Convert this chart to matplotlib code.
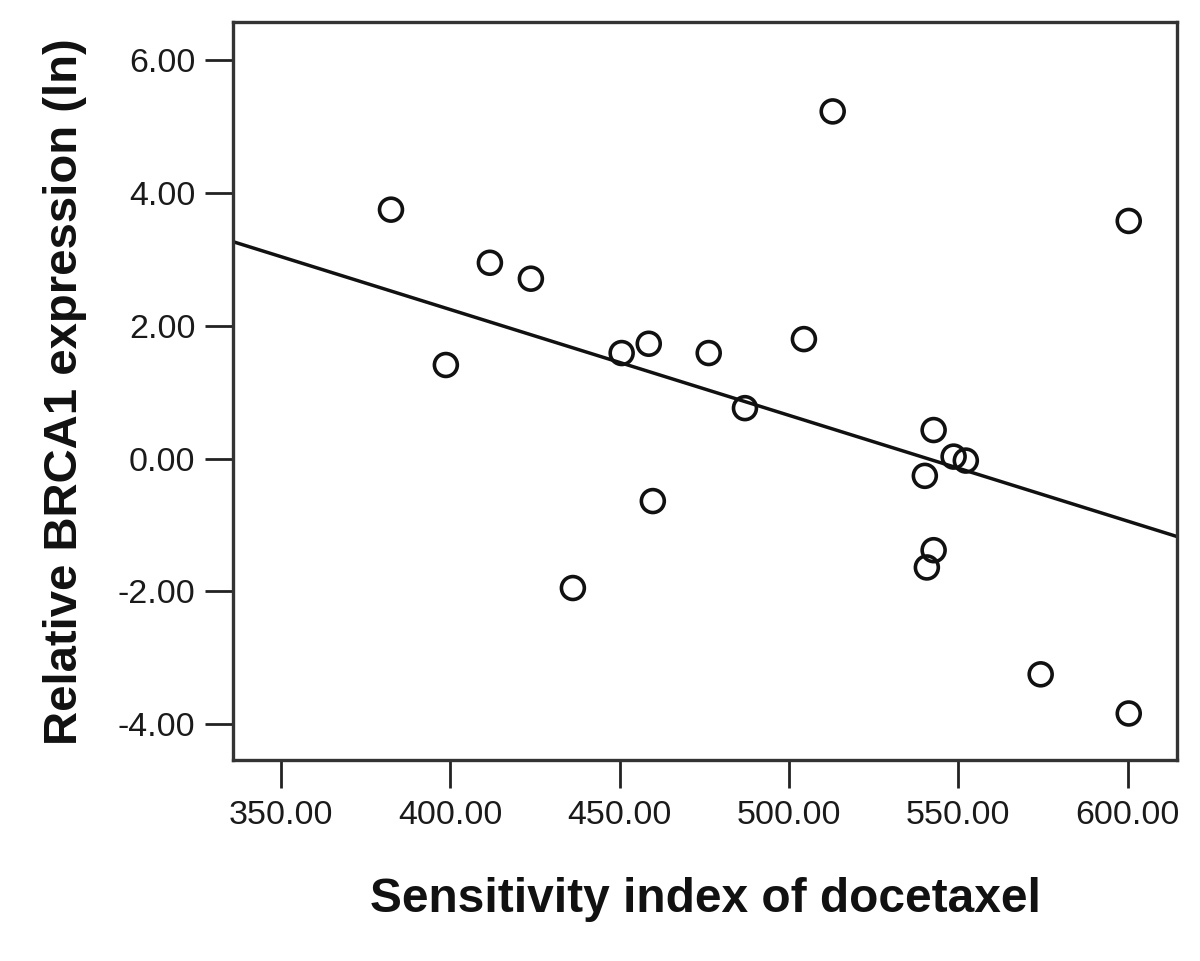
import numpy as np
import matplotlib
matplotlib.use("Agg")
import matplotlib.pyplot as plt

# Data
sensitivity = [382.5, 398.7, 411.7, 423.8, 436.2, 450.6, 458.6, 459.8, 476.3, 487.0,
               504.4, 512.9, 540.1, 542.7, 542.7, 540.7, 548.6, 552.2, 574.3, 600.3, 600.3]
brca1 = [3.75, 1.41, 2.95, 2.71, -1.95, 1.59, 1.73, -0.64, 1.59, 0.76,
         1.80, 5.23, -0.26, 0.43, -1.38, -1.64, 0.03, -0.03, -3.25, 3.58, -3.84]
x_ticks = [350, 400, 450, 500, 550, 600]
y_ticks = [-4, -2, 0, 2, 4, 6]
x_label = "Sensitivity index of docetaxel"
y_label = "Relative BRCA1 expression (ln)"

plt.rcParams['font.family'] = ['Liberation Sans', 'DejaVu Sans']

fig = plt.figure(figsize=(12, 9.61), dpi=100)
ax = fig.add_axes([0.194, 0.2092, 0.7867, 0.7679])

x = np.array(sensitivity)
y = np.array(brca1)
xlim = (335.8, 614.5)
ylim = (-4.54, 6.577)

slope, intercept = np.polyfit(x, y, 1)
xl = np.array(xlim)
ax.plot(xl, slope * xl + intercept, color='#111111', lw=2.5, zorder=2)

ax.scatter(x, y, s=16.5**2, facecolors='none', edgecolors='#111111', linewidths=2.6, zorder=3)

ax.set_xlim(*xlim)
ax.set_ylim(*ylim)
ax.set_xticks(x_ticks)
ax.set_xticklabels([f"{v:.2f}" for v in x_ticks])
ax.set_yticks(y_ticks)
ax.set_yticklabels([f"{v:.2f}" for v in y_ticks])

for s in ax.spines.values():
    s.set_linewidth(2.4)
    s.set_color('#333333')

ax.tick_params(axis='both', length=20, width=2, color='#222222', labelsize=24.5,
               labelcolor='#1a1a1a')
ax.tick_params(axis='x', pad=9)
ax.tick_params(axis='y', pad=7)

fig.text(705 / 1200, 1 - 912 / 961, x_label, ha='center', va='baseline',
         fontsize=34.5, fontweight='bold', color='#111111')
fig.text(65 / 1200, 1 - 392 / 961, y_label, ha='center', va='center', rotation=90,
         fontsize=34, fontweight='bold', color='#111111')

fig.savefig("out.png", dpi=100)
